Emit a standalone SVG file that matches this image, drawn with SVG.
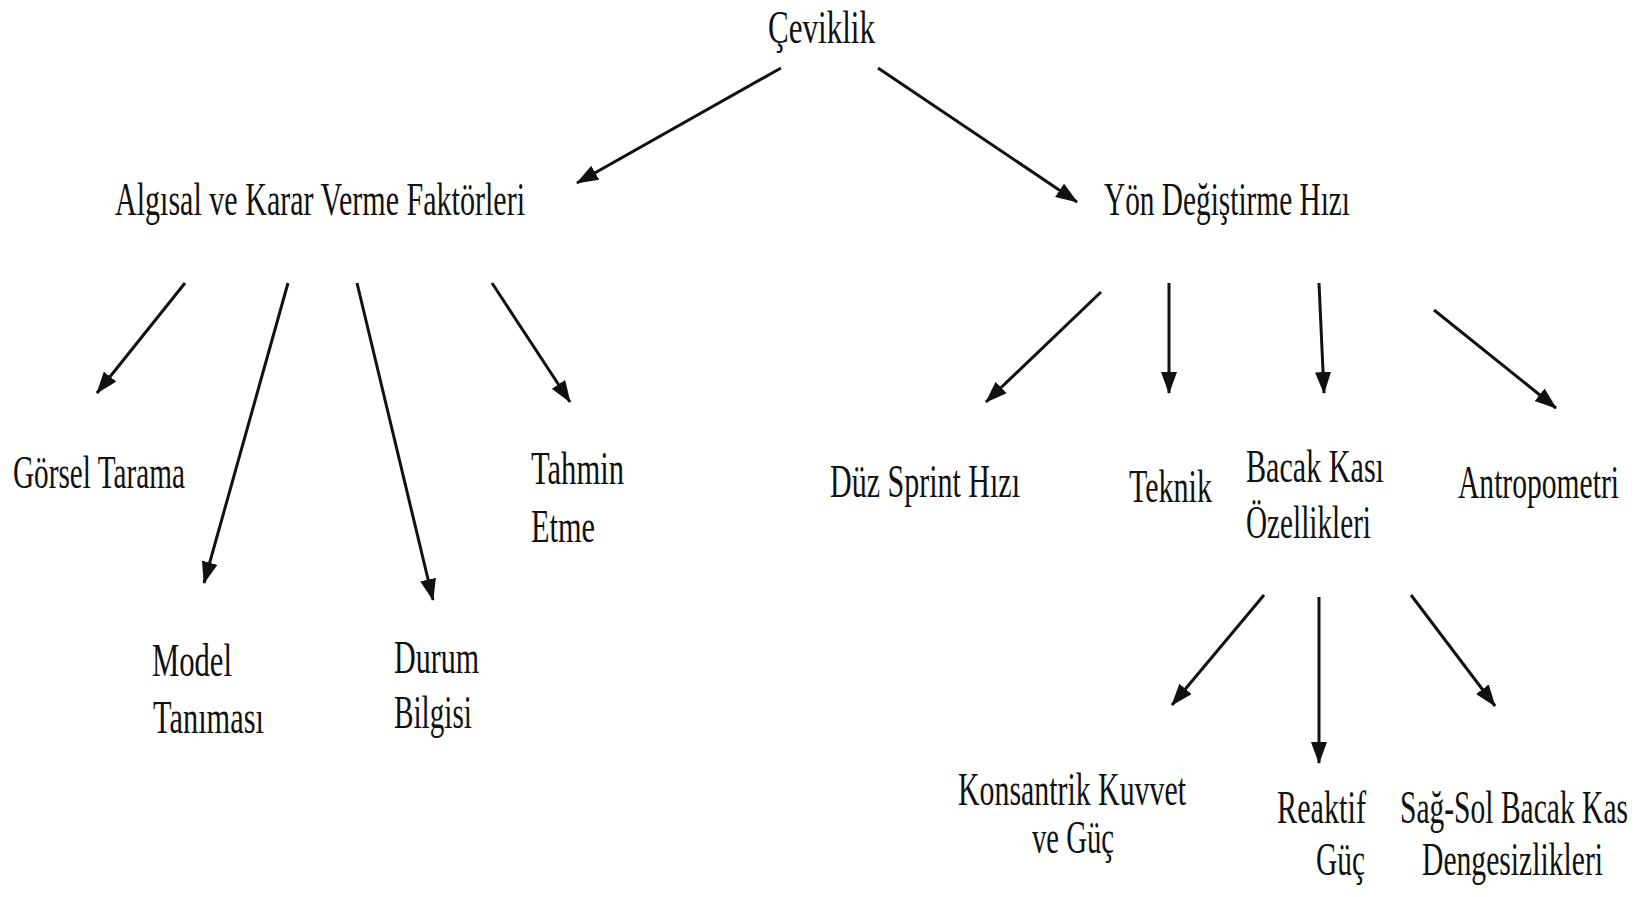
<svg xmlns="http://www.w3.org/2000/svg" width="1650" height="897" viewBox="0 0 1650 897">
<style>
text{font-family:"Liberation Serif","Times New Roman",serif;font-size:47px;fill:#111;}
.c line{stroke:#111;stroke-width:3;marker-end:url(#ah);}
</style>
<defs>
<marker id="ah" markerUnits="userSpaceOnUse" markerWidth="24" markerHeight="18" refX="21" refY="8" orient="auto">
<path d="M0,0 L22,8 L0,16 z" fill="#111"/>
</marker>
</defs>
<rect width="1650" height="897" fill="#fff"/>
<g class="c" id="connectors">
<line x1="781" y1="68" x2="577" y2="183"/>
<line x1="878" y1="68" x2="1077" y2="202"/>
<line x1="185" y1="283" x2="97" y2="393"/>
<line x1="288" y1="283" x2="204" y2="583"/>
<line x1="357" y1="283" x2="433" y2="600"/>
<line x1="492" y1="283" x2="570" y2="402"/>
<line x1="1101" y1="292" x2="986" y2="402"/>
<line x1="1169" y1="283" x2="1169" y2="393"/>
<line x1="1319" y1="283" x2="1324" y2="393"/>
<line x1="1434" y1="310" x2="1556" y2="408"/>
<line x1="1264" y1="595" x2="1172" y2="705"/>
<line x1="1319" y1="597" x2="1319" y2="763"/>
<line x1="1411" y1="595" x2="1495" y2="706"/>
</g>
<g id="ceviklik"><text transform="scale(0.6,1)" x="1280" y="43" textLength="178.33" lengthAdjust="spacingAndGlyphs">Çeviklik</text></g>
<g id="algisal"><text transform="scale(0.6,1)" x="191.67" y="215" textLength="683.33" lengthAdjust="spacingAndGlyphs">Algısal ve Karar Verme Faktörleri</text></g>
<g id="yon"><text transform="scale(0.6,1)" x="1840" y="215" textLength="410" lengthAdjust="spacingAndGlyphs">Yön Değiştirme Hızı</text></g>
<g id="gorsel"><text transform="scale(0.6,1)" x="21.67" y="488" textLength="286.67" lengthAdjust="spacingAndGlyphs">Görsel Tarama</text></g>
<g id="model"><text transform="scale(0.6,1)" x="253.33" y="676" textLength="133.33" lengthAdjust="spacingAndGlyphs">Model</text><text transform="scale(0.6,1)" x="255" y="733" textLength="185" lengthAdjust="spacingAndGlyphs">Tanıması</text></g>
<g id="durum"><text transform="scale(0.6,1)" x="656.67" y="673" textLength="141.67" lengthAdjust="spacingAndGlyphs">Durum</text><text transform="scale(0.6,1)" x="656.67" y="728" textLength="130" lengthAdjust="spacingAndGlyphs">Bilgisi</text></g>
<g id="tahmin"><text transform="scale(0.6,1)" x="885" y="484" textLength="155" lengthAdjust="spacingAndGlyphs">Tahmin</text><text transform="scale(0.6,1)" x="885" y="542" textLength="106.67" lengthAdjust="spacingAndGlyphs">Etme</text></g>
<g id="duz"><text transform="scale(0.6,1)" x="1383.33" y="497" textLength="316.67" lengthAdjust="spacingAndGlyphs">Düz Sprint Hızı</text></g>
<g id="teknik"><text transform="scale(0.6,1)" x="1881.67" y="502" textLength="138.33" lengthAdjust="spacingAndGlyphs">Teknik</text></g>
<g id="bacak"><text transform="scale(0.6,1)" x="2076.67" y="482" textLength="230" lengthAdjust="spacingAndGlyphs">Bacak Kası</text><text transform="scale(0.6,1)" x="2076.67" y="538" textLength="208.33" lengthAdjust="spacingAndGlyphs">Özellikleri</text></g>
<g id="antropometri"><text transform="scale(0.6,1)" x="2430" y="498" textLength="268.33" lengthAdjust="spacingAndGlyphs">Antropometri</text></g>
<g id="konsantrik"><text transform="scale(0.6,1)" x="1596.67" y="805" textLength="380" lengthAdjust="spacingAndGlyphs">Konsantrik Kuvvet</text><text transform="scale(0.6,1)" x="1720" y="853" textLength="136.67" lengthAdjust="spacingAndGlyphs">ve Güç</text></g>
<g id="reaktif"><text transform="scale(0.6,1)" x="2128.33" y="823" textLength="148.33" lengthAdjust="spacingAndGlyphs">Reaktif</text><text transform="scale(0.6,1)" x="2193.33" y="875" textLength="81.67" lengthAdjust="spacingAndGlyphs">Güç</text></g>
<g id="sagsol"><text transform="scale(0.6,1)" x="2333.33" y="823" textLength="380" lengthAdjust="spacingAndGlyphs">Sağ-Sol Bacak Kas</text><text transform="scale(0.6,1)" x="2370" y="875" textLength="301.67" lengthAdjust="spacingAndGlyphs">Dengesizlikleri</text></g>
</svg>
